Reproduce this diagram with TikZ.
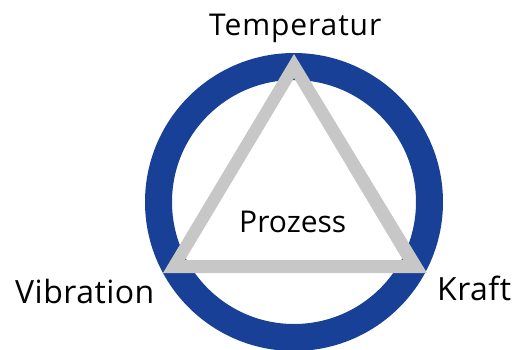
\documentclass[tikz,border=0pt]{standalone}
\usepackage{fontspec}
\setmainfont{Open Sans}
\definecolor{ringblue}{RGB}{23,64,150}
\definecolor{trigrey}{RGB}{198,199,198}
\begin{document}
\begin{tikzpicture}[x=1pt,y=-1pt,
  lbl/.style={inner sep=0pt, anchor=base west, font=\fontsize{30}{36}\selectfont},
  biglbl/.style={inner sep=0pt, anchor=base west, font=\fontsize{32}{38}\selectfont}]
\useasboundingbox (0,0) rectangle (523,349);
\begin{scope}
  \clip (0,0) rectangle (523,349);
  \draw[ringblue, line width=27pt] (294,202) circle[radius=135.5];
\end{scope}
\fill[trigrey, even odd rule]
  (294,54) -- (163,273) -- (427,273) -- cycle
  (294,78) -- (185,260) -- (403,260) -- cycle;
\node[lbl] (temp) at (209,35) {\addfontfeature{LetterSpace=3}Temperatur};
\node[biglbl] (vib) at (15,303) {\addfontfeature{LetterSpace=1.5}Vibration};
\node[biglbl] (kraft) at (437,300) {\addfontfeature{LetterSpace=1.5}Kraft};
\node[lbl] (proz) at (239,232) {Prozess};
\end{tikzpicture}
\end{document}
